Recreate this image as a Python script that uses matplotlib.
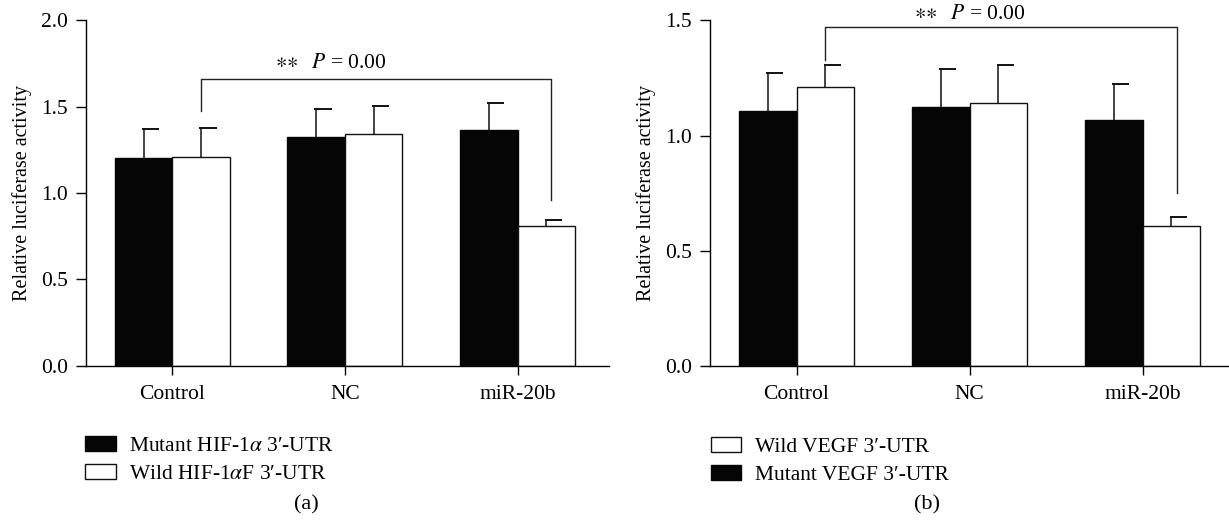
import numpy as np
import matplotlib
matplotlib.use('Agg')
import matplotlib.pyplot as plt
from matplotlib.patches import Patch

plt.rcParams['font.family'] = ['Liberation Serif', 'DejaVu Serif']
plt.rcParams['mathtext.fontset'] = 'stix'

groups = ['Control', 'NC', 'miR-20b']

# panel (a): HIF-1alpha reporter
a_mutant = [1.20, 1.325, 1.365]
a_mutant_err = [0.17, 0.16, 0.155]
a_wild = [1.21, 1.34, 0.807]
a_wild_err = [0.165, 0.165, 0.038]
a_yticks = [0.0, 0.5, 1.0, 1.5, 2.0]

# panel (b): VEGF reporter
b_mutant = [1.107, 1.123, 1.067]
b_mutant_err = [0.164, 0.164, 0.155]
b_wild = [1.209, 1.14, 0.609]
b_wild_err = [0.095, 0.164, 0.039]
b_yticks = [0.0, 0.5, 1.0, 1.5]

sig_text = r'$\ast\!\ast$  $P$ = 0.00'

fig = plt.figure(figsize=(12.29, 5.2), dpi=100)
axa = fig.add_axes([86 / 1229, 0.2967, 523 / 1229, 0.6643])
axb = fig.add_axes([710 / 1229, 0.2962, 519 / 1229, 0.6648])

width = 1 / 3
x = np.arange(len(groups))
fs = 15.5


def draw_panel(ax, mutant, mutant_err, wild, wild_err, yticks, bracket_y, leg_left, leg_right,
               text_x, text_y, xmax):
    xm = x - width / 2
    xw = x + width / 2
    ax.bar(xm, mutant, width, color='#050505', edgecolor='#050505', linewidth=1)
    ax.bar(xw, wild, width, color='white', edgecolor='#111111', linewidth=1)
    for xs, vals, errs in [(xm, mutant, mutant_err), (xw, wild, wild_err)]:
        tops = np.array(vals) + np.array(errs)
        ax.vlines(xs, vals, tops, color='#111111', linewidth=1.1)
        ax.hlines(tops, xs - 0.01, xs + 0.09, color='#111111', linewidth=1.4)
    # significance bracket between wild control and wild miR-20b
    ax.plot([xw[0], xw[0], xw[2] + 0.03, xw[2] + 0.03], [leg_left, bracket_y, bracket_y, leg_right],
            color='#222222', linewidth=1)
    ax.text(text_x, text_y, sig_text, ha='center', va='center', fontsize=fs)

    ax.set_xlim(-0.5, xmax)
    ax.set_ylim(0, yticks[-1])
    ax.set_yticks(yticks)
    ax.set_yticklabels(['%.1f' % t for t in yticks], fontsize=fs)
    ax.set_xticks(x)
    ax.set_xticklabels(groups, fontsize=fs)
    ax.tick_params(axis='y', direction='out', length=7.2, width=1, pad=6)
    ax.tick_params(axis='x', direction='out', length=6.7, width=1, pad=7)
    ax.spines['top'].set_visible(False)
    ax.spines['right'].set_visible(False)
    ax.spines['left'].set_linewidth(1)
    ax.spines['bottom'].set_linewidth(1)
    ax.set_ylabel('Relative luciferase activity', fontsize=14.5, labelpad=6)


draw_panel(axa, a_mutant, a_mutant_err, a_wild, a_wild_err, a_yticks, 1.659, 1.472, 0.96,
           0.92, 1.75, 2.53)
draw_panel(axb, b_mutant, b_mutant_err, b_wild, b_wild_err, b_yticks, 1.47, 1.329, 0.751,
           1.0, 1.525, 2.5)

leg_kw = dict(frameon=False, fontsize=fs, handlelength=1.43, handleheight=0.67,
              handletextpad=0.63, labelspacing=0.4, borderpad=0, borderaxespad=0,
              loc='upper left')

ha = [Patch(facecolor='#050505', edgecolor='#050505', linewidth=1),
      Patch(facecolor='white', edgecolor='#111111', linewidth=1)]
axa.legend(ha, [r'Mutant HIF-1$\alpha$ 3′-UTR', r'Wild HIF-1$\alpha$F 3′-UTR'],
           bbox_to_anchor=(85 / 1229, 1 - 436 / 520), bbox_transform=fig.transFigure, **leg_kw)

hb = [Patch(facecolor='white', edgecolor='#111111', linewidth=1),
      Patch(facecolor='#050505', edgecolor='#050505', linewidth=1)]
axb.legend(hb, ['Wild VEGF 3′-UTR', 'Mutant VEGF 3′-UTR'],
           bbox_to_anchor=(710.5 / 1229, 1 - 437 / 520), bbox_transform=fig.transFigure, **leg_kw)

fig.text(306.7 / 1229, 1 - 505 / 520, '(a)', ha='center', va='center', fontsize=16)
fig.text(926.7 / 1229, 1 - 505 / 520, '(b)', ha='center', va='center', fontsize=16)

fig.savefig('out.png', dpi=100)
